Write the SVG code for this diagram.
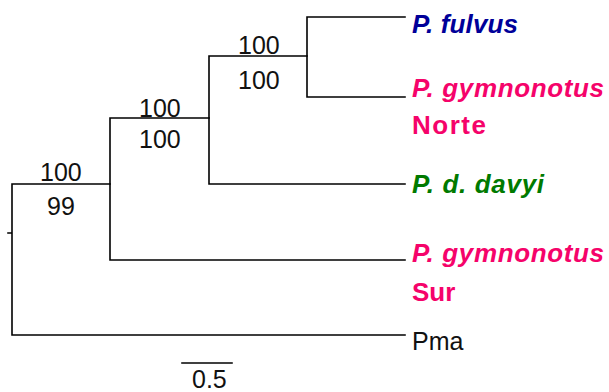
<svg xmlns="http://www.w3.org/2000/svg" width="609" height="392" viewBox="0 0 609 392">
<style>
.br{fill:none;stroke:#000;stroke-width:1.6;stroke-linecap:square}
.sup{font-family:"Liberation Sans",Arial,sans-serif;font-size:25px;fill:#111}
.tx{font-family:"Liberation Sans",Arial,sans-serif;font-size:26px;font-weight:bold;font-style:italic}
.loc{font-family:"Liberation Sans",Arial,sans-serif;font-size:26px;font-weight:bold}
.pink{fill:#F5036A}
</style>
<rect width="609" height="392" fill="#fff"/>
<g id="connectors">
<path class="br" d="M8,233H12 M12,184V335 M12,184H110 M12,335H405"/>
<path class="br" d="M110,118V260 M110,118H209 M110,260H405"/>
<path class="br" d="M209,56V184 M209,56H307 M209,184H405"/>
<path class="br" d="M307,17V97 M307,17H405 M307,97H405"/>
<path class="br" d="M182,363H232"/>
</g>
<g id="support-root"><text class="sup" x="40" y="181">100</text><text class="sup" x="47" y="215">99</text></g>
<g id="support-n1"><text class="sup" x="139" y="117">100</text><text class="sup" x="139" y="148">100</text></g>
<g id="support-n2"><text class="sup" x="238" y="54">100</text><text class="sup" x="238" y="89">100</text></g>
<g id="leaf-fulvus"><text class="tx" x="412" y="33" fill="#000099" textLength="106">P. fulvus</text></g>
<g id="leaf-gym-norte"><text class="tx pink" x="412" y="97" textLength="192">P. gymnonotus</text><text class="loc pink" x="412" y="134" textLength="74">Norte</text></g>
<g id="leaf-davyi"><text class="tx" x="412" y="193" fill="#007A00" textLength="132">P. d. davyi</text></g>
<g id="leaf-gym-sur"><text class="tx pink" x="412" y="262" textLength="192">P. gymnonotus</text><text class="loc pink" x="412" y="301">Sur</text></g>
<g id="leaf-pma"><text class="sup" x="412" y="350" font-size="26" fill="#000">Pma</text></g>
<g id="scale"><text class="sup" x="192" y="388" font-size="23">0.5</text></g>
</svg>
